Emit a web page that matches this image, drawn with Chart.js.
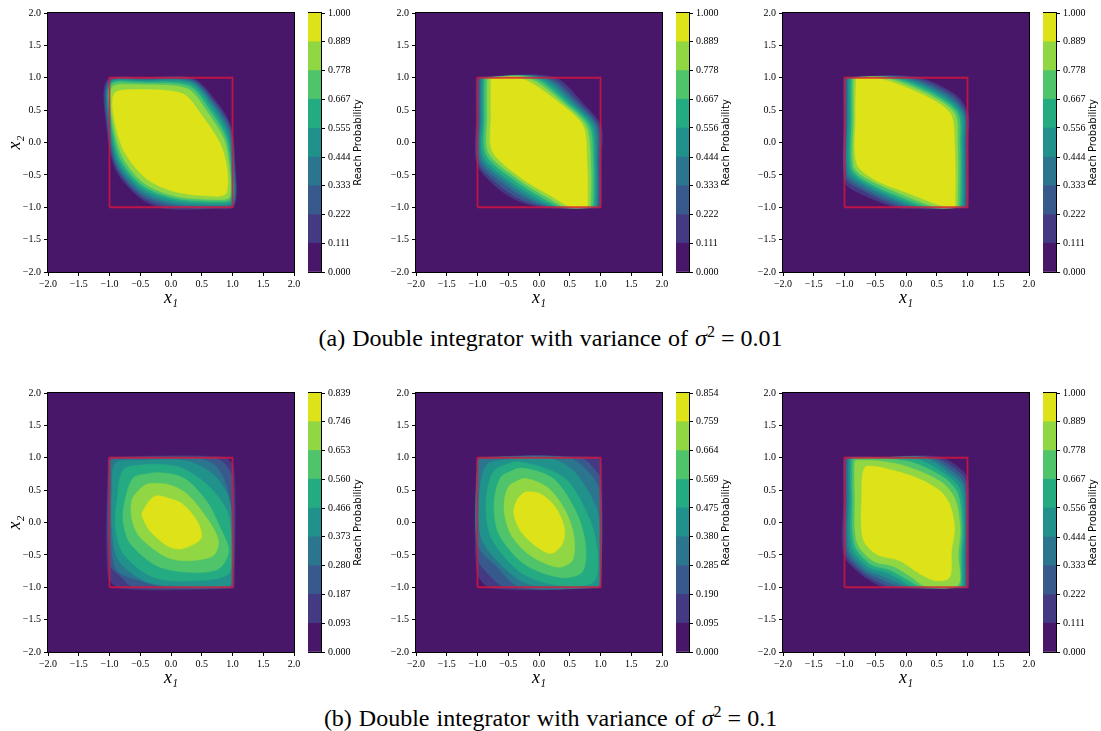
<!DOCTYPE html>
<html>
<head>
<meta charset="utf-8">
<title>Reach probability</title>
<script src="https://cdn.jsdelivr.net/npm/chart.js@4.4.1/dist/chart.umd.min.js"></script>
<style>
  body { margin: 0; width: 1101px; height: 731px; background: #fff; position: relative; overflow: hidden; }
  .box { position: absolute; }
  .caption { position: absolute; left: 0; width: 1101px; text-align: center; font-family: 'Liberation Serif', serif; font-size: 24px; color: #000; line-height: 28px; word-spacing: 1px; }
  .caption sup { font-size: 16px; line-height: 0; }
  .caption .eq { padding: 0 6px; }
</style>
</head>
<body>
<div class="caption" style="top:324px">(a) Double integrator with variance of <i>σ</i><sup>2</sup><span class="eq">=</span>0.01</div>
<div class="caption" style="top:704px">(b) Double integrator with variance of <i>σ</i><sup>2</sup><span class="eq">=</span>0.1</div>
<script>
// axis ticks shared by all six plots
const axisTicks = [-2.0, -1.5, -1.0, -0.5, 0.0, 0.5, 1.0, 1.5, 2.0];

// viridis band colours, lowest band first
const bandColors = ['#481769', '#443983', '#38598c', '#2b758e', '#21918c', '#25ab82', '#4fc46a', '#90d743', '#dde318'];

// target set drawn in red
const targetSet = [[-1, -1], [1, -1], [1, 1], [-1, 1], [-1, -1]];

// colorbar levels
const levelsA1 = [0.000, 0.111, 0.222, 0.333, 0.444, 0.555, 0.667, 0.778, 0.889, 1.000];
const levelsA2 = [0.000, 0.111, 0.222, 0.333, 0.444, 0.556, 0.667, 0.778, 0.889, 1.000];
const levelsA3 = [0.000, 0.111, 0.222, 0.333, 0.444, 0.556, 0.667, 0.778, 0.889, 1.000];
const levelsB1 = [0.000, 0.093, 0.187, 0.280, 0.373, 0.466, 0.560, 0.653, 0.746, 0.839];
const levelsB2 = [0.000, 0.095, 0.190, 0.285, 0.380, 0.475, 0.569, 0.664, 0.759, 0.854];
const levelsB3 = [0.000, 0.111, 0.222, 0.333, 0.444, 0.556, 0.667, 0.778, 0.889, 1.000];

// contour outlines (x, y pairs), one per level from the outermost (level 1) to the innermost (level 8)
const contourA1 = [
  [-1.04,0.96, -0.4,1.0, 0.36,0.99, 0.73,0.64, 0.97,0.26, 1.04,-0.3, 1.03,-0.98, 0.7,-1.02, -0.1,-1.02, -0.5,-0.86, -0.9,-0.42, -1.04,0.2],
  [-1.02,0.95, -0.4,0.99, 0.35,0.97, 0.71,0.62, 0.96,0.23, 1.03,-0.32, 1.02,-0.96, 0.71,-1.01, -0.05,-0.99, -0.5,-0.82, -0.89,-0.38, -1.03,0.23],
  [-1.0,0.94, -0.41,0.97, 0.34,0.95, 0.69,0.6, 0.95,0.2, 1.02,-0.34, 1.01,-0.95, 0.72,-0.99, 0.0,-0.96, -0.5,-0.78, -0.88,-0.35, -1.01,0.26],
  [-0.99,0.93, -0.42,0.96, 0.33,0.93, 0.67,0.58, 0.93,0.16, 1.0,-0.36, 1.0,-0.93, 0.73,-0.97, 0.02,-0.93, -0.49,-0.74, -0.87,-0.31, -1.0,0.3],
  [-0.98,0.92, -0.43,0.94, 0.32,0.9, 0.64,0.56, 0.91,0.12, 0.99,-0.38, 0.99,-0.9, 0.74,-0.94, 0.04,-0.89, -0.48,-0.7, -0.85,-0.28, -0.99,0.35],
  [-0.97,0.9, -0.44,0.92, 0.3,0.87, 0.61,0.53, 0.89,0.08, 0.97,-0.4, 0.97,-0.87, 0.75,-0.91, 0.06,-0.86, -0.47,-0.66, -0.83,-0.24, -0.98,0.4],
  [-0.95,0.86, -0.45,0.89, 0.27,0.83, 0.57,0.5, 0.86,0.05, 0.95,-0.4, 0.95,-0.84, 0.75,-0.88, 0.08,-0.83, -0.45,-0.62, -0.8,-0.2, -0.96,0.4],
  [-0.91,0.77, -0.45,0.82, 0.2,0.75, 0.5,0.42, 0.8,-0.02, 0.91,-0.4, 0.9,-0.78, 0.75,-0.83, 0.1,-0.77, -0.4,-0.56, -0.76,-0.14, -0.93,0.4]
];

const contourA2 = [
  [-1.02,0.98, -0.98,1.01, 0.24,1.01, 0.72,0.6, 1.01,0.25, 1.01,-0.3, 1.01,-0.97, 0.97,-1.01, 0.14,-1.01, -0.3,-0.92, -0.68,-0.7, -1.01,-0.33, -1.02,0.4],
  [-0.99,0.97, -0.96,1.0, 0.17,1.0, 0.66,0.6, 0.97,0.25, 0.99,-0.3, 0.99,-0.97, 0.96,-1.0, 0.19,-1.0, -0.22,-0.91, -0.62,-0.68, -0.99,-0.3, -0.99,0.4],
  [-0.96,0.97, -0.94,1.0, 0.1,1.0, 0.61,0.6, 0.94,0.25, 0.96,-0.3, 0.96,-0.96, 0.93,-1.0, 0.24,-1.0, -0.13,-0.9, -0.56,-0.65, -0.96,-0.28, -0.96,0.4],
  [-0.94,0.97, -0.92,1.0, 0.04,1.0, 0.56,0.6, 0.9,0.25, 0.94,-0.3, 0.94,-0.96, 0.91,-1.0, 0.29,-1.0, -0.05,-0.9, -0.5,-0.63, -0.93,-0.25, -0.94,0.4],
  [-0.91,0.97, -0.89,1.0, -0.03,1.0, 0.51,0.6, 0.86,0.25, 0.91,-0.3, 0.91,-0.96, 0.88,-1.0, 0.34,-1.0, 0.03,-0.89, -0.45,-0.61, -0.9,-0.22, -0.91,0.4],
  [-0.88,0.97, -0.86,1.0, -0.1,1.0, 0.46,0.6, 0.82,0.25, 0.88,-0.3, 0.88,-0.96, 0.85,-1.0, 0.39,-1.0, 0.1,-0.88, -0.4,-0.58, -0.86,-0.19, -0.88,0.4],
  [-0.84,0.97, -0.82,1.0, -0.18,1.0, 0.41,0.6, 0.77,0.25, 0.84,-0.3, 0.84,-0.96, 0.81,-1.0, 0.44,-1.0, 0.17,-0.87, -0.35,-0.56, -0.82,-0.16, -0.84,0.4],
  [-0.78,0.97, -0.76,0.99, -0.28,0.99, 0.35,0.6, 0.72,0.25, 0.78,-0.3, 0.79,-0.96, 0.76,-0.99, 0.5,-0.99, 0.24,-0.85, -0.3,-0.54, -0.76,-0.13, -0.78,0.4]
];

const contourA3 = [
  [-1.01,0.98, -0.98,1.01, 0.16,1.01, 0.8,0.74, 1.01,0.45, 1.01,0.0, 1.01,-0.97, 0.97,-1.01, -0.11,-1.01, -0.5,-0.89, -0.92,-0.7, -1.01,-0.58, -1.01,0.4],
  [-0.99,0.97, -0.96,1.0, 0.08,1.0, 0.73,0.74, 0.98,0.45, 0.99,0.0, 0.99,-0.97, 0.96,-1.0, 0.0,-1.0, -0.2,-0.96, -0.7,-0.74, -0.99,-0.54, -0.99,0.4],
  [-0.96,0.97, -0.94,1.0, 0.0,1.0, 0.66,0.74, 0.95,0.45, 0.96,0.0, 0.96,-0.96, 0.93,-1.0, 0.1,-1.0, -0.2,-0.92, -0.7,-0.7, -0.96,-0.5, -0.96,0.4],
  [-0.94,0.97, -0.92,1.0, -0.08,1.0, 0.59,0.74, 0.92,0.45, 0.94,0.0, 0.94,-0.96, 0.91,-1.0, 0.2,-1.0, -0.2,-0.88, -0.7,-0.65, -0.94,-0.46, -0.94,0.4],
  [-0.91,0.97, -0.89,1.0, -0.16,1.0, 0.52,0.74, 0.88,0.45, 0.91,0.0, 0.91,-0.96, 0.88,-1.0, 0.3,-1.0, -0.2,-0.84, -0.7,-0.61, -0.91,-0.42, -0.91,0.4],
  [-0.88,0.97, -0.86,1.0, -0.25,1.0, 0.45,0.74, 0.84,0.45, 0.88,0.0, 0.88,-0.96, 0.85,-1.0, 0.4,-1.0, -0.2,-0.8, -0.7,-0.57, -0.88,-0.39, -0.88,0.4],
  [-0.85,0.97, -0.83,1.0, -0.34,1.0, 0.37,0.74, 0.79,0.45, 0.84,0.0, 0.84,-0.96, 0.81,-1.0, 0.5,-1.0, -0.2,-0.75, -0.7,-0.52, -0.85,-0.36, -0.85,0.4],
  [-0.81,0.97, -0.79,0.99, -0.43,0.99, 0.27,0.74, 0.72,0.45, 0.79,0.0, 0.8,-0.96, 0.78,-0.99, 0.62,-0.99, 0.0,-0.77, -0.5,-0.58, -0.8,-0.33, -0.82,0.4]
];

const contourB1 = [
  [-1.02,0.97, -0.98,1.01, 0.85,1.01, 1.02,0.85, 1.03,-0.97, 0.99,-1.02, -0.8,-1.02, -1.02,-0.85],
  [-1.01,0.96, -0.97,1.0, 0.69,1.0, 0.88,0.9, 1.0,0.69, 1.01,-0.96, 0.97,-1.0, -0.61,-1.0, -0.8,-0.85, -1.0,-0.64],
  [-0.99,0.94, -0.95,0.98, 0.48,0.98, 0.75,0.85, 0.91,0.54, 1.0,-0.03, 1.0,-0.94, 0.96,-1.0, -0.06,-1.0, -0.5,-0.9, -0.88,-0.74, -0.98,-0.28, -0.99,0.5],
  [-0.9,0.92, -0.44,0.96, 0.26,0.95, 0.69,0.74, 0.94,0.38, 1.0,-0.28, 0.99,-0.9, 0.93,-0.99, 0.2,-0.99, -0.39,-0.92, -0.85,-0.59, -0.96,-0.08, -0.96,0.49],
  [-0.77,0.82, -0.34,0.9, 0.15,0.85, 0.58,0.59, 0.91,0.18, 0.99,-0.38, 0.94,-0.79, 0.37,-0.9, -0.28,-0.85, -0.77,-0.49, -0.9,-0.08, -0.88,0.33],
  [-0.61,0.69, -0.23,0.77, 0.2,0.69, 0.58,0.33, 0.8,-0.08, 0.94,-0.44, 0.77,-0.72, 0.31,-0.77, -0.23,-0.67, -0.66,-0.33, -0.77,-0.03, -0.77,0.23],
  [-0.39,0.59, -0.06,0.59, 0.26,0.44, 0.61,0.03, 0.77,-0.28, 0.69,-0.51, 0.31,-0.59, -0.06,-0.54, -0.5,-0.23, -0.63,0.03, -0.63,0.36],
  [-0.25,0.41, 0.15,0.31, 0.42,0.03, 0.5,-0.21, 0.42,-0.31, 0.15,-0.41, -0.06,-0.36, -0.34,-0.13, -0.44,0.03, -0.47,0.15]
];

const contourB2 = [
  [-1.01,0.97, -0.97,1.01, 0.92,1.01, 1.01,0.92, 1.01,-0.97, 0.97,-1.01, -0.78,-1.01, -1.01,-0.76],
  [-1.0,0.96, -0.96,1.0, 0.67,1.0, 0.85,0.88, 1.0,0.66, 1.0,-0.96, 0.96,-1.0, -0.55,-1.0, -0.8,-0.82, -1.0,-0.55],
  [-1.0,0.95, -0.95,1.0, 0.48,1.0, 0.84,0.74, 1.0,0.44, 1.0,-0.95, 0.95,-1.0, -0.3,-1.0, -0.68,-0.69, -1.0,-0.33],
  [-0.84,0.9, -0.41,0.99, 0.19,0.99, 0.57,0.79, 0.95,0.18, 1.0,-0.44, 0.99,-0.93, 0.93,-1.0, 0.08,-1.0, -0.35,-0.87, -0.92,-0.28, -0.97,0.44],
  [-0.73,0.8, -0.35,0.94, 0.41,0.69, 0.81,0.08, 0.95,-0.44, 0.89,-0.92, 0.3,-0.97, -0.3,-0.77, -0.78,-0.23, -0.86,0.33],
  [-0.62,0.7, -0.3,0.84, 0.24,0.67, 0.62,0.13, 0.76,-0.38, 0.7,-0.77, 0.35,-0.85, -0.24,-0.64, -0.65,-0.18, -0.73,0.28],
  [-0.49,0.56, -0.24,0.68, 0.14,0.54, 0.43,0.18, 0.57,-0.23, 0.54,-0.59, 0.3,-0.69, -0.14,-0.51, -0.46,-0.18, -0.57,0.23],
  [-0.35,0.36, -0.22,0.47, 0.03,0.44, 0.27,0.23, 0.41,-0.08, 0.38,-0.33, 0.2,-0.48, -0.03,-0.38, -0.3,-0.13, -0.41,0.15]
];

const contourB3 = [
  [-1.01,0.98, -0.98,1.01, -0.4,1.01, 0.55,1.01, 0.93,0.79, 1.01,0.64, 1.02,-0.08, 1.02,-0.49, 1.02,-0.98, 0.99,-1.01, -0.27,-1.01, -0.38,-1.0, -0.52,-0.93, -0.72,-0.81, -1.01,-0.5, -1.01,0.4],
  [-0.98,0.97, -0.95,1.0, -0.4,1.0, 0.46,1.0, 0.86,0.78, 0.98,0.61, 1.0,-0.08, 0.99,-0.49, 0.99,-0.97, 0.96,-1.0, -0.15,-1.0, -0.3,-0.98, -0.48,-0.9, -0.7,-0.78, -0.98,-0.48, -0.98,0.4],
  [-0.96,0.97, -0.93,1.0, -0.4,1.0, 0.38,1.0, 0.8,0.76, 0.95,0.58, 0.98,-0.08, 0.97,-0.49, 0.97,-0.96, 0.94,-1.0, -0.05,-1.0, -0.22,-0.95, -0.44,-0.86, -0.68,-0.75, -0.95,-0.45, -0.96,0.4],
  [-0.93,0.97, -0.9,1.0, -0.4,1.0, 0.3,1.0, 0.74,0.74, 0.92,0.55, 0.96,-0.08, 0.95,-0.49, 0.95,-0.96, 0.92,-1.0, 0.05,-1.0, -0.15,-0.92, -0.4,-0.82, -0.65,-0.72, -0.92,-0.42, -0.93,0.4],
  [-0.9,0.97, -0.87,1.0, -0.4,1.0, 0.2,0.97, 0.68,0.72, 0.88,0.5, 0.94,-0.08, 0.92,-0.49, 0.92,-0.95, 0.89,-1.0, 0.15,-1.0, -0.08,-0.89, -0.33,-0.77, -0.62,-0.68, -0.88,-0.38, -0.9,0.4],
  [-0.87,0.96, -0.84,0.99, -0.4,0.99, 0.1,0.93, 0.62,0.69, 0.84,0.45, 0.91,-0.08, 0.89,-0.49, 0.89,-0.95, 0.86,-0.99, 0.25,-0.99, -0.02,-0.86, -0.27,-0.73, -0.58,-0.64, -0.84,-0.34, -0.87,0.4],
  [-0.83,0.94, -0.78,0.96, -0.43,0.95, 0.0,0.87, 0.55,0.64, 0.79,0.38, 0.88,-0.08, 0.85,-0.49, 0.85,-0.96, 0.33,-0.99, 0.05,-0.82, -0.2,-0.68, -0.54,-0.59, -0.8,-0.3, -0.83,0.4],
  [-0.67,0.85, -0.4,0.85, 0.17,0.69, 0.55,0.49, 0.71,0.28, 0.79,-0.08, 0.74,-0.44, 0.71,-0.85, 0.49,-0.9, 0.22,-0.79, -0.1,-0.59, -0.48,-0.49, -0.7,-0.25, -0.72,0.4]
];

const panels = [
  { left: 48,  top: 12,  contour: contourA1, levels: levelsA1, yTitle: true },
  { left: 416, top: 12,  contour: contourA2, levels: levelsA2, yTitle: false },
  { left: 783, top: 12,  contour: contourA3, levels: levelsA3, yTitle: false },
  { left: 48,  top: 392, contour: contourB1, levels: levelsB1, yTitle: true },
  { left: 416, top: 392, contour: contourB2, levels: levelsB2, yTitle: false },
  { left: 783, top: 392, contour: contourB3, levels: levelsB3, yTitle: false }
];

const tickFont = { family: 'Liberation Serif', size: 10 };
const axisTitleFont = { family: 'Liberation Serif', size: 18, style: 'italic' };

Chart.defaults.font.family = 'Liberation Serif';
Chart.defaults.color = '#000';

function fmtTick(v) {
  return (v < 0 ? '\u2212' : '') + Math.abs(v).toFixed(1);
}

// background = lowest band, frame round the axes
const areaPlugin = {
  id: 'areaPlugin',
  beforeDatasetsDraw(chart, args, opts) {
    if (!opts.fill) return;
    const { ctx, chartArea: a } = chart;
    ctx.save();
    ctx.fillStyle = opts.fill;
    ctx.fillRect(a.left, a.top, a.width, a.height);
    ctx.restore();
  },
  afterDraw(chart) {
    const { ctx, chartArea: a } = chart;
    ctx.save();
    ctx.strokeStyle = '#000';
    ctx.lineWidth = 1;
    ctx.strokeRect(Math.round(a.left) - 0.5, Math.round(a.top) - 0.5, Math.round(a.width) + 1, Math.round(a.height) + 1);
    ctx.restore();
  }
};

const cbLabel = {
  id: 'cbLabel',
  afterDraw(chart) {
    const { ctx, chartArea: a } = chart;
    ctx.save();
    ctx.translate(a.right + 37, (a.top + a.bottom) / 2);
    ctx.rotate(-Math.PI / 2);
    ctx.font = '10px "DejaVu Sans"';
    ctx.fillStyle = '#000';
    ctx.textAlign = 'center';
    ctx.textBaseline = 'middle';
    ctx.fillText('Reach Probability', 0, 0);
    ctx.restore();
  }
};

function addBox(left, top, w, h) {
  const div = document.createElement('div');
  div.className = 'box';
  div.style.left = left + 'px';
  div.style.top = top + 'px';
  div.style.width = w + 'px';
  div.style.height = h + 'px';
  const canvas = document.createElement('canvas');
  div.appendChild(canvas);
  document.body.appendChild(div);
  return canvas;
}

function drawPanel(canvas, p) {
  const datasets = [{
    data: targetSet.map(([x, y]) => ({ x, y })),
    borderColor: 'rgba(220,20,60,0.78)',
    borderWidth: 1.8,
    fill: false,
    pointRadius: 0,
    tension: 0
  }];
  // innermost level first so it is painted on top
  for (let k = p.contour.length - 1; k >= 0; k--) {
    const flat = p.contour[k];
    const pts = [];
    for (let i = 0; i < flat.length; i += 2) pts.push({ x: flat[i], y: flat[i + 1] });
    pts.push(pts[0], pts[1]);
    datasets.push({
      data: pts,
      fill: 'shape',
      backgroundColor: bandColors[k + 1],
      borderColor: bandColors[k + 1],
      borderWidth: 0.5,
      pointRadius: 0,
      tension: 0.3
    });
  }

  const tickSetter = s => { s.ticks = axisTicks.map(v => ({ value: v })); };

  new Chart(canvas, {
    type: 'line',
    data: { datasets },
    options: {
      animation: false,
      responsive: true,
      maintainAspectRatio: false,
      layout: { padding: { top: 8, right: 10, left: 0, bottom: 0 } },
      plugins: { legend: { display: false }, tooltip: { enabled: false }, areaPlugin: { fill: bandColors[0] } },
      scales: {
        x: {
          type: 'linear', min: -2, max: 2,
          afterBuildTicks: tickSetter,
          afterFit: s => { s.height = 42; },
          ticks: { callback: fmtTick, font: tickFont, color: '#000', maxRotation: 0, padding: 2 },
          grid: { drawOnChartArea: false, drawTicks: true, tickLength: 4, color: '#000' },
          border: { color: '#000' },
          title: { display: true, text: 'x\u2081', font: axisTitleFont, color: '#000', padding: { top: 0, bottom: 5 } }
        },
        y: {
          type: 'linear', min: -2, max: 2,
          afterBuildTicks: tickSetter,
          afterFit: s => { s.width = 50; },
          ticks: { callback: fmtTick, font: tickFont, color: '#000', padding: 3 },
          grid: { drawOnChartArea: false, drawTicks: true, tickLength: 4, color: '#000' },
          border: { color: '#000' },
          title: { display: p.yTitle, text: 'x\u2082', font: axisTitleFont, color: '#000', padding: { top: 6, bottom: 0 } }
        }
      }
    },
    plugins: [areaPlugin]
  });
}

function drawColorbar(canvas, levels) {
  const datasets = levels.slice(1).map((v, i) => ({
    data: [v - levels[i]],
    backgroundColor: bandColors[i],
    borderWidth: 0,
    barPercentage: 1,
    categoryPercentage: 1
  }));

  new Chart(canvas, {
    type: 'bar',
    data: { labels: [''], datasets },
    options: {
      animation: false,
      responsive: true,
      maintainAspectRatio: false,
      layout: { padding: { top: 8, bottom: 42, left: 0, right: 0 } },
      plugins: { legend: { display: false }, tooltip: { enabled: false }, areaPlugin: { fill: null } },
      scales: {
        x: { display: false, stacked: true },
        y: {
          stacked: true, position: 'right', min: 0, max: levels[levels.length - 1],
          afterBuildTicks: s => { s.ticks = levels.map(v => ({ value: v })); },
          afterFit: s => { s.width = 67; },
          ticks: { callback: (v, i) => levels[i].toFixed(3), font: tickFont, color: '#000', padding: 3 },
          grid: { drawOnChartArea: false, drawTicks: true, tickLength: 4, color: '#000' },
          border: { display: false }
        }
      }
    },
    plugins: [areaPlugin, cbLabel]
  });
}

panels.forEach(p => {
  drawPanel(addBox(p.left - 50, p.top - 8, 306, 310), p);
  drawColorbar(addBox(p.left + 260, p.top - 8, 80, 310), p.levels);
});
</script>
</body>
</html>
